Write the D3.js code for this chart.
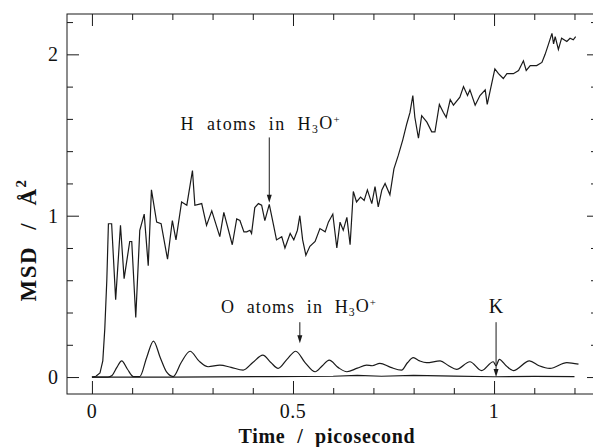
<!DOCTYPE html>
<html><head><meta charset="utf-8">
<script src="https://cdn.jsdelivr.net/npm/d3@7"></script>
<style>
body{margin:0;background:#fff}
svg{display:block}
text{font-family:"Liberation Serif","Times New Roman",serif;fill:#111}
</style>
</head><body>
<svg id="c" width="593" height="447"></svg>
<script>
// ---- data (time in ps, MSD in Å^2) ----
const hAtoms = [[0,0],[0.01,0.005],[0.02,0.025],[0.027,0.1],[0.032,0.3],[0.037,0.6],[0.041,0.95],[0.049,0.95],[0.059,0.48],[0.071,0.94],[0.080,0.61],[0.094,0.84],[0.099,0.84],[0.109,0.37],[0.119,0.91],[0.130,1.01],[0.140,0.69],[0.148,1.16],[0.161,0.96],[0.172,0.95],[0.188,0.73],[0.200,0.97],[0.209,0.85],[0.223,1.085],[0.236,1.065],[0.250,1.28],[0.256,1.065],[0.273,1.075],[0.285,0.94],[0.298,1.03],[0.318,0.87],[0.328,1.02],[0.349,0.82],[0.360,0.98],[0.368,0.97],[0.378,0.90],[0.385,0.90],[0.393,0.91],[0.397,0.89],[0.405,1.05],[0.414,1.075],[0.422,1.065],[0.430,0.97],[0.441,1.07],[0.451,0.95],[0.459,0.85],[0.472,0.87],[0.480,0.80],[0.493,0.89],[0.502,0.85],[0.511,0.91],[0.517,1.00],[0.524,0.85],[0.532,0.755],[0.542,0.81],[0.555,0.84],[0.567,0.92],[0.580,0.90],[0.588,0.96],[0.599,1.01],[0.609,0.80],[0.617,0.96],[0.625,0.91],[0.634,0.99],[0.642,0.82],[0.650,1.15],[0.658,1.085],[0.668,1.115],[0.677,1.095],[0.685,1.16],[0.696,1.075],[0.704,1.18],[0.712,1.055],[0.721,1.16],[0.729,1.20],[0.741,1.13],[0.751,1.29],[0.762,1.375],[0.773,1.47],[0.783,1.57],[0.791,1.64],[0.798,1.745],[0.803,1.61],[0.812,1.48],[0.820,1.62],[0.833,1.58],[0.845,1.52],[0.853,1.52],[0.864,1.69],[0.874,1.64],[0.881,1.61],[0.891,1.72],[0.899,1.685],[0.915,1.735],[0.924,1.80],[0.934,1.745],[0.940,1.78],[0.953,1.685],[0.965,1.745],[0.978,1.78],[0.983,1.69],[1.002,1.91],[1.011,1.88],[1.023,1.85],[1.032,1.88],[1.048,1.88],[1.061,1.90],[1.073,1.96],[1.080,1.90],[1.090,1.93],[1.106,1.93],[1.119,1.95],[1.127,2.0],[1.135,2.06],[1.144,2.13],[1.148,2.065],[1.152,2.11],[1.160,2.03],[1.168,2.10],[1.181,2.08],[1.189,2.10],[1.197,2.09],[1.203,2.11]];

const oAtoms = [[0,0],[0.04,0],[0.05,0.01],[0.062,0.06],[0.074,0.10],[0.088,0.05],[0.103,0.003],[0.119,0.003],[0.136,0.12],[0.153,0.223],[0.170,0.12],[0.186,0.03],[0.202,0.003],[0.222,0.09],[0.244,0.16],[0.266,0.10],[0.289,0.064],[0.318,0.074],[0.346,0.06],[0.376,0.043],[0.400,0.09],[0.425,0.136],[0.445,0.09],[0.463,0.054],[0.485,0.11],[0.507,0.16],[0.530,0.09],[0.555,0.033],[0.573,0.07],[0.590,0.105],[0.612,0.06],[0.634,0.033],[0.660,0.055],[0.683,0.074],[0.697,0.07],[0.716,0.085],[0.743,0.06],[0.770,0.043],[0.785,0.09],[0.799,0.12],[0.815,0.10],[0.832,0.089],[0.866,0.10],[0.887,0.07],[0.907,0.048],[0.940,0.095],[0.969,0.04],[0.998,0.095],[1.005,0.07],[1.013,0.11],[1.030,0.07],[1.048,0.04],[1.088,0.10],[1.112,0.07],[1.139,0.054],[1.181,0.09],[1.21,0.08]];

const kAtoms = [[0,0],[0.2,0],[0.45,0.003],[0.6,0.005],[0.66,0.01],[0.72,0.005],[0.8,0.01],[0.9,0.006],[1.0,0.002],[1.1,0.004],[1.2,0.003]];

const xMajorTicks = [0, 0.5, 1];
const xTickLabels = ["0", "0.5", "1"];
const xMinorTicks = [0.1,0.2,0.3,0.4,0.6,0.7,0.8,0.9,1.1,1.2];
const yMajorTicks = [0, 1, 2];
const yTickLabels = ["0", "1", "2"];
const yMinorTicks = [0.2,0.4,0.6,0.8,1.2,1.4,1.6,1.8,2.2];

// annotations: label, text anchor (t, v), arrow at t from v0 to v1
const annLabels = ["H atoms in H3O+", "O atoms in H3O+", "K"];
const annText = [[0.42, 1.53], [0.515, 0.396], [1.005, 0.396]];
const annArrow = [[0.441, 1.485, 1.08], [0.517, 0.34, 0.21], [1.005, 0.34, 0.0]];

// ---- layout ----
const svg = d3.select("#c");
const L = 67, R = 597, T = 14, B = 394;
const x = d3.scaleLinear().domain([-0.062, 1.256]).range([L, R]);
const y = d3.scaleLinear().domain([-0.105, 2.25]).range([B, T]);

const ink = "#1a1a1a";

svg.append("rect").attr("x", L).attr("y", T).attr("width", R - L).attr("height", B - T)
  .attr("fill", "none").attr("stroke", ink).attr("stroke-width", 1);

function ticks(axisFn, scale, vals, size, tr) {
  const g = svg.append("g").attr("transform", tr)
    .call(axisFn(scale).tickValues(vals).tickSize(size).tickFormat(""));
  g.select(".domain").remove();
  g.selectAll(".tick line").attr("stroke", ink).attr("stroke-width", 1);
  return g;
}
ticks(d3.axisBottom, x, xMajorTicks, -13, `translate(0,${B})`);
ticks(d3.axisBottom, x, xMinorTicks, -6, `translate(0,${B})`);
ticks(d3.axisTop, x, xMajorTicks, -12, `translate(0,${T})`);
ticks(d3.axisTop, x, xMinorTicks, -6, `translate(0,${T})`);
ticks(d3.axisLeft, y, yMajorTicks, -12, `translate(${L},0)`);
ticks(d3.axisLeft, y, yMinorTicks, -6, `translate(${L},0)`);
ticks(d3.axisRight, y, yMajorTicks, -10, `translate(${R},0)`);
ticks(d3.axisRight, y, yMinorTicks, -6, `translate(${R},0)`);

// tick labels
svg.append("g").selectAll("text").data(xMajorTicks).join("text")
  .attr("x", d => x(d)).attr("y", 418).attr("text-anchor", "middle")
  .attr("font-size", 20).attr("letter-spacing", 0.5).text((d, i) => xTickLabels[i]);
svg.append("g").selectAll("text").data(yMajorTicks).join("text")
  .attr("x", 58).attr("y", d => y(d)).attr("dy", "0.35em").attr("text-anchor", "end")
  .attr("font-size", 20).text((d, i) => yTickLabels[i]);

// axis titles
svg.append("text").attr("x", 327).attr("y", 443).attr("text-anchor", "middle")
  .attr("font-size", 20).attr("font-weight", "bold").attr("letter-spacing", 0.7).attr("word-spacing", "6px")
  .text("Time / picosecond");
const yt = svg.append("text").attr("transform", "translate(36,240) rotate(-90)")
  .attr("text-anchor", "middle").attr("font-size", 23).attr("font-weight", "bold")
  .attr("letter-spacing", 1.5).attr("word-spacing", "9px");
yt.append("tspan").text("MSD / Å");
yt.append("tspan").attr("font-size", 15).attr("dy", -10).text("2");

// curves
const lineLin = d3.line().x(d => x(d[0])).y(d => y(d[1]));
const lineSmooth = d3.line().x(d => x(d[0])).y(d => y(d[1])).curve(d3.curveMonotoneX);
svg.append("path").datum(kAtoms).attr("d", lineLin).attr("fill", "none").attr("stroke", ink).attr("stroke-width", 1.2);
svg.append("path").datum(oAtoms).attr("d", lineSmooth).attr("fill", "none").attr("stroke", ink).attr("stroke-width", 1.2);
svg.append("path").datum(hAtoms).attr("d", lineLin).attr("fill", "none").attr("stroke", ink).attr("stroke-width", 1.2);

// annotations
function chemLabel(sel, label) {
  const m = label.match(/^(.*)H3O\+$/);
  if (!m) { sel.text(label); return; }
  sel.append("tspan").text(m[1] + "H");
  sel.append("tspan").attr("font-size", "0.65em").attr("dy", "0.25em").text("3");
  sel.append("tspan").attr("dy", "-0.25em").text("O");
  sel.append("tspan").attr("font-size", "0.6em").attr("dy", "-0.55em").text("+");
}
annLabels.forEach((lab, i) => {
  const t = svg.append("text").attr("x", x(annText[i][0])).attr("y", y(annText[i][1]))
    .attr("text-anchor", "middle").attr("font-size", i === 2 ? 20 : 18)
    .attr("letter-spacing", i === 0 ? 1.4 : (i === 1 ? 1.1 : 0)).attr("word-spacing", 6);
  chemLabel(t, lab);
  const [at, v0, v1] = annArrow[i];
  const ax = x(at), y0 = y(v0), y1 = y(v1);
  svg.append("line").attr("x1", ax).attr("x2", ax).attr("y1", y0).attr("y2", y1 - 6)
    .attr("stroke", ink).attr("stroke-width", 1);
  svg.append("path").attr("d", `M${ax - 2.5},${y1 - 8}L${ax + 2.5},${y1 - 8}L${ax},${y1}Z`).attr("fill", ink);
});
</script>
</body></html>
